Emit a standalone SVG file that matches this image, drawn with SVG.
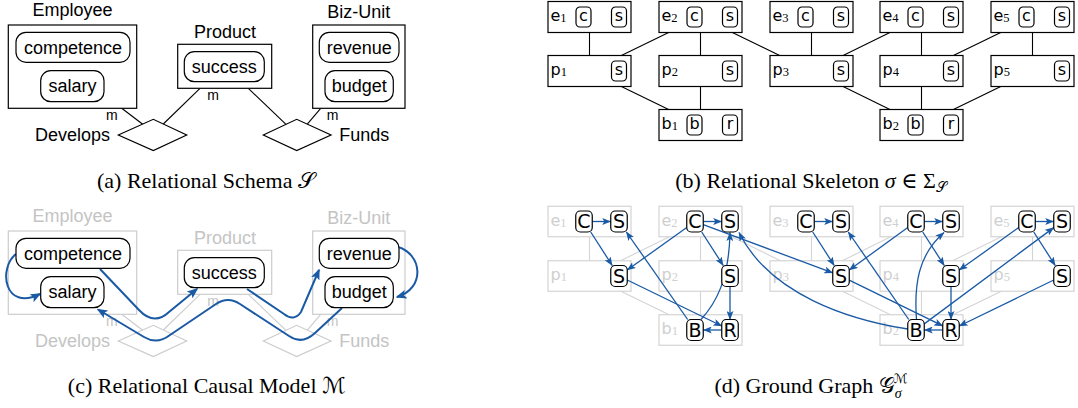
<svg xmlns="http://www.w3.org/2000/svg" width="1078" height="408" viewBox="0 0 1078 408">
<defs>
<marker id="ahC" markerUnits="userSpaceOnUse" markerWidth="11" markerHeight="9" refX="9.5" refY="4.5" orient="auto"><path d="M0,0 L11,4.5 L0,9 L2.5,4.5 z" fill="#1a5aa5"/></marker>
<marker id="ahD" markerUnits="userSpaceOnUse" markerWidth="9" markerHeight="7" refX="8.5" refY="3.5" orient="auto"><path d="M0,0 L9,3.5 L0,7 L2,3.5 z" fill="#1a5aa5"/></marker>
</defs>
<style>
.t{font-family:"Liberation Sans",Arial,sans-serif;font-size:18px;fill:#000}
.m{font-family:"Liberation Sans",Arial,sans-serif;font-size:14px;fill:#000}
.gt{fill:#c4c4c4}
.box{fill:#fff;stroke:#000;stroke-width:1.2}
.gbox{fill:#fff;stroke:#cccccc;stroke-width:1.2}
.dbox{fill:#fff;stroke:#d4d4d4;stroke-width:1.2}
.pill{fill:#fff;stroke:#000;stroke-width:1.2}
.ln{stroke:#000;stroke-width:1.1;fill:none}
.gln{stroke:#cccccc;stroke-width:1.1;fill:none}
.dln{stroke:#d4d4d4;stroke-width:1.1;fill:none}
.cap{font-family:"Liberation Serif","Times New Roman","DejaVu Serif",serif;font-size:22px;fill:#000}
.sk{font-family:"DejaVu Sans",sans-serif;font-size:16px;fill:#000}
.skg{font-family:"DejaVu Sans",sans-serif;font-size:16px;fill:#cfcfcf}
.sub{font-family:"Liberation Serif",serif;font-size:12.5px}
.big{font-family:"DejaVu Sans",sans-serif;font-size:19px;fill:#000}
.arC{fill:none;stroke:#1a5aa5;stroke-width:2;marker-end:url(#ahC)}
.arD{fill:none;stroke:#1a5aa5;stroke-width:1.3;marker-end:url(#ahD)}
</style>
<rect width="1078" height="408" fill="#fff"/>

<!-- ===== Panel (a) ===== -->
<g id="a-connectors" class="ln">
<line x1="121.7" y1="108.3" x2="142.7" y2="124.2"/>
<line x1="200" y1="88.3" x2="163.3" y2="124"/>
<line x1="248.3" y1="88.3" x2="286" y2="124.3"/>
<line x1="320.7" y1="108.3" x2="307.3" y2="124.2"/>
</g>
<g id="a-employee">
<rect class="box" x="8.3" y="25" width="128.4" height="83.3"/>
<text class="t" x="72.5" y="15.5" text-anchor="middle">Employee</text>
<rect class="pill" x="16" y="32.3" width="114" height="30" rx="10"/>
<text class="t" x="73" y="53.5" text-anchor="middle">competence</text>
<rect class="pill" x="40.7" y="70.7" width="63.3" height="31" rx="10"/>
<text class="t" x="72.4" y="92.4" text-anchor="middle">salary</text>
</g>
<g id="a-product">
<rect class="box" x="177.7" y="44.3" width="94" height="44"/>
<text class="t" x="225" y="38.3" text-anchor="middle">Product</text>
<rect class="pill" x="184.3" y="51.7" width="80" height="30" rx="10"/>
<text class="t" x="224.3" y="72.9" text-anchor="middle">success</text>
</g>
<g id="a-bizunit">
<rect class="box" x="312.7" y="25" width="92.3" height="83.3"/>
<text class="t" x="358.7" y="17.5" text-anchor="middle">Biz-Unit</text>
<rect class="pill" x="319.3" y="32.3" width="79.7" height="30" rx="10"/>
<text class="t" x="359.2" y="53.5" text-anchor="middle">revenue</text>
<rect class="pill" x="325" y="70.7" width="68.3" height="31" rx="10"/>
<text class="t" x="359.2" y="92.4" text-anchor="middle">budget</text>
</g>
<g id="a-develops">
<polygon class="box" points="118.3,135 153.3,119.3 186.7,135 153.3,150.5"/>
<text class="t" x="110" y="140.7" text-anchor="end">Develops</text>
<text class="m" x="106" y="120">m</text>
<text class="m" x="207.3" y="100">m</text>
</g>
<g id="a-funds">
<polygon class="box" points="263.3,135 296.7,119.3 331,135 296.7,150.5"/>
<text class="t" x="339.3" y="140.7">Funds</text>
<text class="m" x="326.7" y="120">m</text>
</g>
<text class="cap" x="206" y="188" text-anchor="middle">(a) Relational Schema <tspan font-family="DejaVu Sans, DejaVu Serif, serif">𝒮</tspan></text>

<!-- ===== Panel (c) ===== -->
<g id="c-skeleton-lines" class="gln">
<line x1="121.7" y1="314.3" x2="142.7" y2="330.2"/>
<line x1="200" y1="294.3" x2="163.3" y2="330"/>
<line x1="248.3" y1="294.3" x2="286" y2="330.3"/>
<line x1="320.7" y1="314.3" x2="307.3" y2="330.2"/>
</g>
<g id="c-employee-box">
<rect class="gbox" x="8.3" y="231" width="128.4" height="83.3"/>
<text class="t gt" x="72.5" y="221.5" text-anchor="middle">Employee</text>
</g>
<g id="c-product-box">
<rect class="gbox" x="177.7" y="250.3" width="94" height="44"/>
<text class="t gt" x="225" y="244.3" text-anchor="middle">Product</text>
</g>
<g id="c-bizunit-box">
<rect class="gbox" x="312.7" y="231" width="92.3" height="83.3"/>
<text class="t gt" x="358.7" y="223.5" text-anchor="middle">Biz-Unit</text>
</g>
<g id="c-develops">
<polygon class="gbox" points="118.3,341 153.3,325.3 186.7,341 153.3,356.5"/>
<text class="t gt" x="110" y="346.7" text-anchor="end">Develops</text>
<text class="m gt" x="106" y="326">m</text>
<text class="m gt" x="207.3" y="306">m</text>
</g>
<g id="c-funds">
<polygon class="gbox" points="263.3,341 296.7,325.3 331,341 296.7,356.5"/>
<text class="t gt" x="339.3" y="346.7">Funds</text>
<text class="m gt" x="326.7" y="326">m</text>
</g>
<g id="c-connectors">
<path class="arC" d="M16,254 C-2,268 4,312 40,294"/>
<path class="arC" d="M100,269 L139,310 Q154,326 169,312 L197,289"/>
<path class="arC" d="M247,289 L284,314 Q294,322 301,312 L319,270"/>
<path class="arC" d="M342,308 L315,333 Q302,345 289,336 L240,304 Q228,296 216,304 L170,335 Q157,345 144,337 L98,309.5"/>
<path class="arC" d="M398,247 C422,254 426,288 397,297"/>
</g>
<g id="c-competence">
<rect class="pill" x="16" y="238.3" width="114" height="30" rx="10"/>
<text class="t" x="73" y="259.5" text-anchor="middle">competence</text>
</g>
<g id="c-salary">
<rect class="pill" x="40.7" y="276.7" width="63.3" height="31" rx="10"/>
<text class="t" x="72.4" y="298.4" text-anchor="middle">salary</text>
</g>
<g id="c-success">
<rect class="pill" x="184.3" y="257.7" width="80" height="30" rx="10"/>
<text class="t" x="224.3" y="278.9" text-anchor="middle">success</text>
</g>
<g id="c-revenue">
<rect class="pill" x="319.3" y="238.3" width="79.7" height="30" rx="10"/>
<text class="t" x="359.2" y="259.5" text-anchor="middle">revenue</text>
</g>
<g id="c-budget">
<rect class="pill" x="325" y="276.7" width="68.3" height="31" rx="10"/>
<text class="t" x="359.2" y="298.4" text-anchor="middle">budget</text>
</g>
<text class="cap" x="206.7" y="393" text-anchor="middle">(c) Relational Causal Model <tspan font-family="DejaVu Sans, DejaVu Serif, serif">ℳ</tspan></text>

<!-- ===== Panel (b) ===== -->
<g id="b-connectors" class="ln">
<line x1="589.5" y1="17" x2="589.5" y2="71"/>
<line x1="700.5" y1="17" x2="589.5" y2="71"/>
<line x1="700.5" y1="17" x2="700.5" y2="71"/>
<line x1="700.5" y1="17" x2="811.5" y2="71"/>
<line x1="811.5" y1="17" x2="811.5" y2="71"/>
<line x1="921.5" y1="17" x2="811.5" y2="71"/>
<line x1="921.5" y1="17" x2="921.5" y2="71"/>
<line x1="1032.5" y1="17" x2="921.5" y2="71"/>
<line x1="1032.5" y1="17" x2="1032.5" y2="71"/>
<line x1="589.5" y1="71" x2="700.5" y2="125"/>
<line x1="700.5" y1="71" x2="700.5" y2="125"/>
<line x1="811.5" y1="71" x2="921.5" y2="125"/>
<line x1="921.5" y1="71" x2="921.5" y2="125"/>
<line x1="1032.5" y1="71" x2="921.5" y2="125"/>
</g>
<g id="b-e1"><rect class="box" x="548" y="1.5" width="83" height="31"/><text class="sk" x="550.5" y="21.4">e<tspan class="sub" dy="1">1</tspan></text><rect class="pill" x="576" y="7" width="15" height="20" rx="4"/><text class="sk" x="583.5" y="21.4" text-anchor="middle">c</text><rect class="pill" x="611.5" y="7" width="15" height="20" rx="4"/><text class="sk" x="619" y="21.4" text-anchor="middle">s</text></g>
<g id="b-e2"><rect class="box" x="659" y="1.5" width="83" height="31"/><text class="sk" x="661.5" y="21.4">e<tspan class="sub" dy="1">2</tspan></text><rect class="pill" x="687" y="7" width="15" height="20" rx="4"/><text class="sk" x="694.5" y="21.4" text-anchor="middle">c</text><rect class="pill" x="722.5" y="7" width="15" height="20" rx="4"/><text class="sk" x="730" y="21.4" text-anchor="middle">s</text></g>
<g id="b-e3"><rect class="box" x="770" y="1.5" width="83" height="31"/><text class="sk" x="772.5" y="21.4">e<tspan class="sub" dy="1">3</tspan></text><rect class="pill" x="798" y="7" width="15" height="20" rx="4"/><text class="sk" x="805.5" y="21.4" text-anchor="middle">c</text><rect class="pill" x="833.5" y="7" width="15" height="20" rx="4"/><text class="sk" x="841" y="21.4" text-anchor="middle">s</text></g>
<g id="b-e4"><rect class="box" x="880" y="1.5" width="83" height="31"/><text class="sk" x="882.5" y="21.4">e<tspan class="sub" dy="1">4</tspan></text><rect class="pill" x="908" y="7" width="15" height="20" rx="4"/><text class="sk" x="915.5" y="21.4" text-anchor="middle">c</text><rect class="pill" x="943.5" y="7" width="15" height="20" rx="4"/><text class="sk" x="951" y="21.4" text-anchor="middle">s</text></g>
<g id="b-e5"><rect class="box" x="991" y="1.5" width="83" height="31"/><text class="sk" x="993.5" y="21.4">e<tspan class="sub" dy="1">5</tspan></text><rect class="pill" x="1019" y="7" width="15" height="20" rx="4"/><text class="sk" x="1026.5" y="21.4" text-anchor="middle">c</text><rect class="pill" x="1054.5" y="7" width="15" height="20" rx="4"/><text class="sk" x="1062" y="21.4" text-anchor="middle">s</text></g>
<g id="b-p1"><rect class="box" x="548" y="55.5" width="83" height="31"/><text class="sk" x="550.5" y="75.4">p<tspan class="sub" dy="1">1</tspan></text><rect class="pill" x="611.5" y="61" width="15" height="20" rx="4"/><text class="sk" x="619" y="75.4" text-anchor="middle">s</text></g>
<g id="b-p2"><rect class="box" x="659" y="55.5" width="83" height="31"/><text class="sk" x="661.5" y="75.4">p<tspan class="sub" dy="1">2</tspan></text><rect class="pill" x="722.5" y="61" width="15" height="20" rx="4"/><text class="sk" x="730" y="75.4" text-anchor="middle">s</text></g>
<g id="b-p3"><rect class="box" x="770" y="55.5" width="83" height="31"/><text class="sk" x="772.5" y="75.4">p<tspan class="sub" dy="1">3</tspan></text><rect class="pill" x="833.5" y="61" width="15" height="20" rx="4"/><text class="sk" x="841" y="75.4" text-anchor="middle">s</text></g>
<g id="b-p4"><rect class="box" x="880" y="55.5" width="83" height="31"/><text class="sk" x="882.5" y="75.4">p<tspan class="sub" dy="1">4</tspan></text><rect class="pill" x="943.5" y="61" width="15" height="20" rx="4"/><text class="sk" x="951" y="75.4" text-anchor="middle">s</text></g>
<g id="b-p5"><rect class="box" x="991" y="55.5" width="83" height="31"/><text class="sk" x="993.5" y="75.4">p<tspan class="sub" dy="1">5</tspan></text><rect class="pill" x="1054.5" y="61" width="15" height="20" rx="4"/><text class="sk" x="1062" y="75.4" text-anchor="middle">s</text></g>
<g id="b-b1"><rect class="box" x="659" y="109.5" width="83" height="31"/><text class="sk" x="661.5" y="129.4">b<tspan class="sub" dy="1">1</tspan></text><rect class="pill" x="687" y="115" width="15" height="20" rx="4"/><text class="sk" x="694.5" y="129.4" text-anchor="middle">b</text><rect class="pill" x="722.5" y="115" width="15" height="20" rx="4"/><text class="sk" x="730" y="129.4" text-anchor="middle">r</text></g>
<g id="b-b2"><rect class="box" x="880" y="109.5" width="83" height="31"/><text class="sk" x="882.5" y="129.4">b<tspan class="sub" dy="1">2</tspan></text><rect class="pill" x="908" y="115" width="15" height="20" rx="4"/><text class="sk" x="915.5" y="129.4" text-anchor="middle">b</text><rect class="pill" x="943.5" y="115" width="15" height="20" rx="4"/><text class="sk" x="951" y="129.4" text-anchor="middle">r</text></g>
<text class="cap" x="811" y="188" text-anchor="middle">(b) Relational Skeleton <tspan font-style="italic">σ</tspan> ∈ Σ<tspan font-size="14" dy="4" font-family="DejaVu Sans, DejaVu Serif, serif">𝒮</tspan></text>

<!-- ===== Panel (d) ===== -->
<g id="d-skeleton-lines" class="dln">
<line x1="589.5" y1="221.5" x2="589.5" y2="276"/>
<line x1="700.5" y1="221.5" x2="589.5" y2="276"/>
<line x1="700.5" y1="221.5" x2="700.5" y2="276"/>
<line x1="700.5" y1="221.5" x2="811.5" y2="276"/>
<line x1="811.5" y1="221.5" x2="811.5" y2="276"/>
<line x1="921.5" y1="221.5" x2="811.5" y2="276"/>
<line x1="921.5" y1="221.5" x2="921.5" y2="276"/>
<line x1="1032.5" y1="221.5" x2="921.5" y2="276"/>
<line x1="1032.5" y1="221.5" x2="1032.5" y2="276"/>
<line x1="589.5" y1="276" x2="700.5" y2="330"/>
<line x1="700.5" y1="276" x2="700.5" y2="330"/>
<line x1="811.5" y1="276" x2="921.5" y2="330"/>
<line x1="921.5" y1="276" x2="921.5" y2="330"/>
<line x1="1032.5" y1="276" x2="921.5" y2="330"/>
</g>
<g id="d-e1"><rect class="dbox" x="548" y="206.25" width="83" height="30.5"/><text class="skg" x="550.5" y="225.9">e<tspan class="sub" dy="1">1</tspan></text></g>
<g id="d-e2"><rect class="dbox" x="659" y="206.25" width="83" height="30.5"/><text class="skg" x="661.5" y="225.9">e<tspan class="sub" dy="1">2</tspan></text></g>
<g id="d-e3"><rect class="dbox" x="770" y="206.25" width="83" height="30.5"/><text class="skg" x="772.5" y="225.9">e<tspan class="sub" dy="1">3</tspan></text></g>
<g id="d-e4"><rect class="dbox" x="880" y="206.25" width="83" height="30.5"/><text class="skg" x="882.5" y="225.9">e<tspan class="sub" dy="1">4</tspan></text></g>
<g id="d-e5"><rect class="dbox" x="991" y="206.25" width="83" height="30.5"/><text class="skg" x="993.5" y="225.9">e<tspan class="sub" dy="1">5</tspan></text></g>
<g id="d-p1"><rect class="dbox" x="548" y="260.75" width="83" height="30.5"/><text class="skg" x="550.5" y="280.4">p<tspan class="sub" dy="1">1</tspan></text></g>
<g id="d-p2"><rect class="dbox" x="659" y="260.75" width="83" height="30.5"/><text class="skg" x="661.5" y="280.4">p<tspan class="sub" dy="1">2</tspan></text></g>
<g id="d-p3"><rect class="dbox" x="770" y="260.75" width="83" height="30.5"/><text class="skg" x="772.5" y="280.4">p<tspan class="sub" dy="1">3</tspan></text></g>
<g id="d-p4"><rect class="dbox" x="880" y="260.75" width="83" height="30.5"/><text class="skg" x="882.5" y="280.4">p<tspan class="sub" dy="1">4</tspan></text></g>
<g id="d-p5"><rect class="dbox" x="991" y="260.75" width="83" height="30.5"/><text class="skg" x="993.5" y="280.4">p<tspan class="sub" dy="1">5</tspan></text></g>
<g id="d-b1"><rect class="dbox" x="659" y="314.75" width="83" height="30.5"/><text class="skg" x="661.5" y="334.4">b<tspan class="sub" dy="1">1</tspan></text></g>
<g id="d-b2"><rect class="dbox" x="880" y="314.75" width="83" height="30.5"/><text class="skg" x="882.5" y="334.4">b<tspan class="sub" dy="1">2</tspan></text></g>

<g id="d-connectors">
<line class="arD" x1="592.25" y1="221.5" x2="610.75" y2="221.5"/>
<line class="arD" x1="703.25" y1="221.5" x2="721.75" y2="221.5"/>
<line class="arD" x1="814.25" y1="221.5" x2="832.75" y2="221.5"/>
<line class="arD" x1="924.25" y1="221.5" x2="942.75" y2="221.5"/>
<line class="arD" x1="1035.25" y1="221.5" x2="1053.75" y2="221.5"/>
<line class="arD" x1="590.74" y1="232" x2="612.26" y2="265.5"/>
<line class="arD" x1="686.75" y1="227.42" x2="627.25" y2="270.08"/>
<line class="arD" x1="701.74" y1="232" x2="723.26" y2="265.5"/>
<line class="arD" x1="703.25" y1="224.58" x2="832.75" y2="272.92"/>
<line class="arD" x1="812.74" y1="232" x2="834.26" y2="265.5"/>
<line class="arD" x1="907.75" y1="227.5" x2="849.25" y2="270"/>
<line class="arD" x1="922.74" y1="232" x2="944.26" y2="265.5"/>
<line class="arD" x1="1018.75" y1="227.42" x2="959.25" y2="270.08"/>
<line class="arD" x1="1033.74" y1="232" x2="1055.26" y2="265.5"/>
<line class="arD" x1="627.25" y1="280.01" x2="721.75" y2="325.99"/>
<line class="arD" x1="730" y1="286.5" x2="730" y2="319.5"/>
<line class="arD" x1="721.75" y1="330" x2="703.25" y2="330"/>
<line class="arD" x1="687.65" y1="319.5" x2="626.35" y2="232"/>
<line class="arD" x1="849.25" y1="280.05" x2="942.75" y2="325.95"/>
<line class="arD" x1="951" y1="286.5" x2="951" y2="319.5"/>
<line class="arD" x1="1053.75" y1="280.01" x2="959.25" y2="325.99"/>
<line class="arD" x1="942.75" y1="330" x2="924.25" y2="330"/>
<line class="arD" x1="908.74" y1="319.5" x2="848.26" y2="232"/>
<line class="arD" x1="924.25" y1="323.87" x2="1053.75" y2="227.63"/>
<path class="arD" d="M701,319.5 C716,303 729,280 730,232.5"/>
<path class="arD" d="M916.5,319.5 C914,285 918,255 944,232.5"/>
<path class="arD" d="M907.75,329 C850,320 770,295 739,232.5"/>
</g>

<g id="d-e1-C"><rect class="pill" x="575.75" y="211" width="16.5" height="21" rx="4.5"/><text class="big" x="584" y="228.4" text-anchor="middle">C</text></g>
<g id="d-e1-S"><rect class="pill" x="610.75" y="211" width="16.5" height="21" rx="4.5"/><text class="big" x="619" y="228.4" text-anchor="middle">S</text></g>
<g id="d-e2-C"><rect class="pill" x="686.75" y="211" width="16.5" height="21" rx="4.5"/><text class="big" x="695" y="228.4" text-anchor="middle">C</text></g>
<g id="d-e2-S"><rect class="pill" x="721.75" y="211" width="16.5" height="21" rx="4.5"/><text class="big" x="730" y="228.4" text-anchor="middle">S</text></g>
<g id="d-e3-C"><rect class="pill" x="797.75" y="211" width="16.5" height="21" rx="4.5"/><text class="big" x="806" y="228.4" text-anchor="middle">C</text></g>
<g id="d-e3-S"><rect class="pill" x="832.75" y="211" width="16.5" height="21" rx="4.5"/><text class="big" x="841" y="228.4" text-anchor="middle">S</text></g>
<g id="d-e4-C"><rect class="pill" x="907.75" y="211" width="16.5" height="21" rx="4.5"/><text class="big" x="916" y="228.4" text-anchor="middle">C</text></g>
<g id="d-e4-S"><rect class="pill" x="942.75" y="211" width="16.5" height="21" rx="4.5"/><text class="big" x="951" y="228.4" text-anchor="middle">S</text></g>
<g id="d-e5-C"><rect class="pill" x="1018.75" y="211" width="16.5" height="21" rx="4.5"/><text class="big" x="1027" y="228.4" text-anchor="middle">C</text></g>
<g id="d-e5-S"><rect class="pill" x="1053.75" y="211" width="16.5" height="21" rx="4.5"/><text class="big" x="1062" y="228.4" text-anchor="middle">S</text></g>
<g id="d-p1-S"><rect class="pill" x="610.75" y="265.5" width="16.5" height="21" rx="4.5"/><text class="big" x="619" y="282.9" text-anchor="middle">S</text></g>
<g id="d-p2-S"><rect class="pill" x="721.75" y="265.5" width="16.5" height="21" rx="4.5"/><text class="big" x="730" y="282.9" text-anchor="middle">S</text></g>
<g id="d-p3-S"><rect class="pill" x="832.75" y="265.5" width="16.5" height="21" rx="4.5"/><text class="big" x="841" y="282.9" text-anchor="middle">S</text></g>
<g id="d-p4-S"><rect class="pill" x="942.75" y="265.5" width="16.5" height="21" rx="4.5"/><text class="big" x="951" y="282.9" text-anchor="middle">S</text></g>
<g id="d-p5-S"><rect class="pill" x="1053.75" y="265.5" width="16.5" height="21" rx="4.5"/><text class="big" x="1062" y="282.9" text-anchor="middle">S</text></g>
<g id="d-b1-B"><rect class="pill" x="686.75" y="319.5" width="16.5" height="21" rx="4.5"/><text class="big" x="695" y="336.9" text-anchor="middle">B</text></g>
<g id="d-b1-R"><rect class="pill" x="721.75" y="319.5" width="16.5" height="21" rx="4.5"/><text class="big" x="730" y="336.9" text-anchor="middle">R</text></g>
<g id="d-b2-B"><rect class="pill" x="907.75" y="319.5" width="16.5" height="21" rx="4.5"/><text class="big" x="916" y="336.9" text-anchor="middle">B</text></g>
<g id="d-b2-R"><rect class="pill" x="942.75" y="319.5" width="16.5" height="21" rx="4.5"/><text class="big" x="951" y="336.9" text-anchor="middle">R</text></g>
<text class="cap" x="811" y="393" text-anchor="middle">(d) Ground Graph <tspan font-family="DejaVu Sans, DejaVu Serif, serif">𝒢</tspan><tspan font-size="14" font-style="italic" dy="5">σ</tspan><tspan font-size="13" dx="-8" dy="-15" font-family="DejaVu Sans, DejaVu Serif, serif">ℳ</tspan></text>
</svg>
